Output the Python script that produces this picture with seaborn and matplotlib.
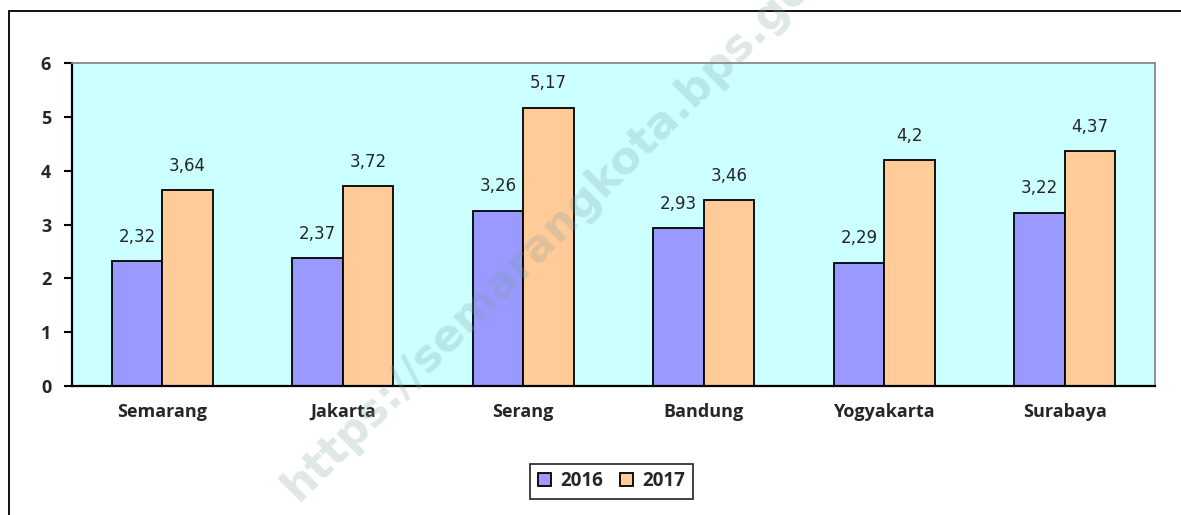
import matplotlib.pyplot as plt
import pandas as pd
import seaborn as sns
from matplotlib.patches import Rectangle

# data
cities = ["Semarang", "Jakarta", "Serang", "Bandung", "Yogyakarta", "Surabaya"]
years = ["2016", "2017"]
val2016 = [2.32, 2.37, 3.26, 2.93, 2.29, 3.22]
val2017 = [3.64, 3.72, 5.17, 3.46, 4.20, 4.37]
yticks = [0, 1, 2, 3, 4, 5, 6]

df = pd.DataFrame({
    "Kota": cities * 2,
    "Tahun": [years[0]] * len(cities) + [years[1]] * len(cities),
    "Nilai": val2016 + val2017,
})

sns.set_style("white")
plt.rcParams["font.family"] = ["DejaVu Sans"]

fig = plt.figure(figsize=(11.81, 5.15), dpi=100)
ax = fig.add_axes([0.061, 0.2505, 0.917, 0.627])
ax.set_facecolor("#CCFFFF")

sns.barplot(data=df, x="Kota", y="Nilai", hue="Tahun", order=cities,
            hue_order=years, palette=["#9999FF", "#FFCC99"], width=0.56,
            saturation=1, edgecolor="black", linewidth=1.3, ax=ax, legend=True)

# value labels
for cont in ax.containers:
    labels = [("%g" % v).replace(".", ",") for v in cont.datavalues]
    ax.bar_label(cont, labels=labels, padding=11, fontsize=12,
                 family=["DejaVu Sans"])

bold = {"fontweight": "bold", "fontsize": 13, "family": ["Open Sans", "DejaVu Sans"]}
ax.set_xlim(-0.5, len(cities) - 0.5)
ax.set_ylim(0, 6)
ax.set_yticks(yticks)
ax.set_yticklabels([str(t) for t in yticks], **bold)
ax.set_xticks(range(len(cities)))
ax.set_xticklabels(cities, **bold)
ax.set_xticks([i + 0.5 for i in range(-1, len(cities))], minor=True)
ax.tick_params(axis="x", which="major", length=0, pad=12)
ax.tick_params(axis="x", which="minor", length=5, width=1.2, direction="out", color="black")
ax.tick_params(axis="y", length=6, width=1.5, direction="out", color="black", left=True, pad=9)
ax.set_xlabel("")
ax.set_ylabel("")

for side in ["left", "bottom"]:
    ax.spines[side].set_color("black")
    ax.spines[side].set_linewidth(1.6)
for side in ["top", "right"]:
    ax.spines[side].set_color("#888888")
    ax.spines[side].set_linewidth(1.3)

leg = ax.legend(loc="center", bbox_to_anchor=(0.518, 0.066), bbox_transform=fig.transFigure,
                ncol=2, frameon=True, fancybox=False, edgecolor="black",
                prop={"weight": "bold", "size": 13.5, "family": ["Open Sans", "DejaVu Sans"]},
                handlelength=0.7, handleheight=0.7, handletextpad=0.5, columnspacing=0.9,
                borderpad=0.4)
leg.get_frame().set_linewidth(1.3)

# outer frame
fig.patches.append(Rectangle((9 / 1181, -0.1), 1.2, 0.1 + (515 - 11) / 515,
                             transform=fig.transFigure, fill=False,
                             edgecolor="black", linewidth=1.3))

# watermark
fig.text(0.482, 0.585, "https://semarangkota.bps.go.id", rotation=45, fontsize=32,
         fontweight="bold", color="#7f9f9f", alpha=0.25, ha="center", va="center",
         rotation_mode="anchor", family=["DejaVu Sans"], zorder=10)

fig.savefig("out.png", dpi=100)
